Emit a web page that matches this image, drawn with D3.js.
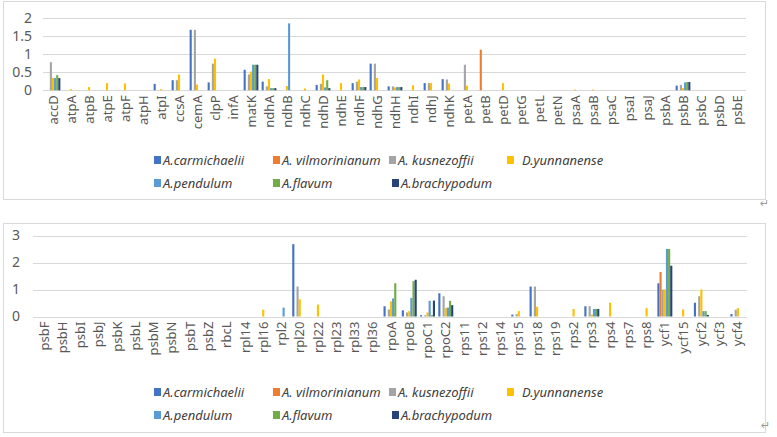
<!DOCTYPE html>
<html>
<head>
<meta charset="utf-8">
<script src="https://cdn.jsdelivr.net/npm/d3@7"></script>
<style>
  html, body { margin: 0; padding: 0; background: #ffffff; }
  svg { display: block; }
</style>
</head>
<body>
<svg id="chart" width="777" height="437"></svg>
<script>
// ---------- data ----------
const seriesNames = ["A.carmichaelii", "A. vilmorinianum", "A. kusnezoffii", "D.yunnanense", "A.pendulum", "A.flavum", "A.brachypodum"];
const seriesColors = ["#4472C4", "#ED7D31", "#A5A5A5", "#FFC000", "#5B9BD5", "#70AD47", "#264478"];

const topCategories = ["accD","atpA","atpB","atpE","atpF","atpH","atpI","ccsA","cemA","clpP",
  "infA","matK","ndhA","ndhB","ndhC","ndhD","ndhE","ndhF","ndhG","ndhH",
  "ndhI","ndhJ","ndhK","petA","petB","petD","petG","petL","petN","psaA",
  "psaB","psaC","psaI","psaJ","psbA","psbB","psbC","psbD","psbE"];
const topTicks = [0, 0.5, 1, 1.5, 2];
const topTickLabels = ["0", "0.5", "1", "1.5", "2"];

const topCarmichaelii = [0,0,0,0,0,0,0.18,0.28,1.68,0.22, 0,0.57,0.24,0,0,0.15,0,0.2,0.74,0.11, 0,0.2,0.31,0,0,0,0,0,0,0, 0,0,0,0,0,0.13,0,0,0];
const topVilmorinianum = [0,0,0,0,0,0,0,0,0,0, 0,0,0,0,0,0,0,0,0,0, 0,0,0,0,1.13,0,0,0,0,0, 0,0,0,0,0,0,0,0,0];
const topKusnezoffii = [0.78,0,0,0,0,0,0,0.28,1.68,0.74, 0,0.44,0.11,0,0,0.18,0,0.24,0.74,0.11, 0,0.2,0.3,0.71,0,0,0,0,0,0, 0,0,0,0,0,0.15,0,0,0];
const topYunnanense = [0.34,0.03,0.09,0.2,0.19,0,0.03,0.44,0.16,0.88, 0,0.52,0.31,0.12,0.05,0.44,0.2,0.3,0.34,0.08, 0.14,0.2,0.19,0.13,0,0.2,0,0,0,0.02, 0.02,0,0,0,0,0.06,0,0,0];
const topPendulum = [0.34,0,0,0,0,0,0,0,0,0, 0,0.71,0.06,1.86,0,0.08,0,0.09,0,0.09, 0,0,0,0,0,0,0,0,0,0, 0,0,0,0,0,0.22,0,0,0];
const topFlavum = [0.42,0,0,0,0,0,0,0,0,0, 0,0.71,0.06,0,0,0.28,0,0.09,0,0.09, 0,0,0,0,0,0,0,0,0,0, 0,0,0,0,0,0.23,0,0,0];
const topBrachypodum = [0.34,0,0,0,0,0,0,0,0,0, 0,0.71,0.06,0,0,0.06,0,0.09,0,0.09, 0,0,0,0,0,0,0,0,0,0, 0,0,0,0,0,0.23,0,0,0];

const bottomCategories = ["psbF","psbH","psbI","psbJ","psbK","psbL","psbM","psbN","psbT","psbZ",
  "rbcL","rpl14","rpl16","rpl2","rpl20","rpl22","rpl23","rpl33","rpl36","rpoA",
  "rpoB","rpoC1","rpoC2","rps11","rps12","rps14","rps15","rps18","rps19","rps2",
  "rps3","rps4","rps7","rps8","ycf1","ycf15","ycf2","ycf3","ycf4"];
const bottomTicks = [0, 1, 2, 3];
const bottomTickLabels = ["0", "1", "2", "3"];

const botCarmichaelii = [0,0,0,0,0,0,0,0,0,0, 0,0,0,0,2.68,0,0,0,0,0.38, 0.23,0.05,0.86,0,0,0,0.07,1.11,0,0, 0.38,0,0,0,1.23,0,0.51,0,0.09];
const botVilmorinianum = [0,0,0,0,0,0,0,0,0,0, 0,0,0,0,0,0,0,0,0,0, 0,0,0,0,0,0,0,0,0,0, 0,0,0,0,1.65,0,0,0,0];
const botKusnezoffii = [0,0,0,0,0,0,0,0,0,0, 0,0,0,0,1.11,0,0,0,0,0.26, 0.15,0.05,0.75,0,0,0,0.09,1.11,0,0, 0.38,0,0,0,1.0,0,0.75,0,0.25];
const botYunnanense = [0,0,0,0,0,0,0,0,0,0, 0,0,0.25,0,0.64,0.44,0,0,0,0.56, 0.2,0.15,0.32,0,0,0,0.2,0.36,0,0.28, 0.07,0.51,0,0.31,1.0,0.26,1.0,0,0.31];
const botPendulum = [0,0,0,0,0,0,0,0,0,0, 0,0,0,0.33,0,0,0,0,0,0.67, 0.69,0.58,0.33,0,0,0,0,0,0,0, 0.28,0,0,0,2.5,0,0.2,0,0];
const botFlavum = [0,0,0,0,0,0,0,0,0,0, 0,0,0,0,0,0,0,0,0,1.23, 1.31,0.05,0.58,0,0,0,0,0,0,0, 0.28,0,0,0,2.5,0,0.2,0,0];
const botBrachypodum = [0,0,0,0,0,0,0,0,0,0, 0,0,0,0,0,0,0,0,0,0, 1.36,0.59,0.42,0,0,0,0,0,0,0, 0.28,0,0,0,1.88,0,0.06,0,0];

// ---------- drawing ----------
const svg = d3.select("#chart");
const FONT = "'Noto Sans', 'DejaVu Sans', sans-serif";

function drawPanel(cfg) {
  const g = svg.append("g");
  // frame
  g.append("rect")
    .attr("x", cfg.frame[0] + 0.5).attr("y", cfg.frame[1] + 0.5)
    .attr("width", cfg.frame[2]).attr("height", cfg.frame[3])
    .attr("fill", "#fff").attr("stroke", "#d9d9d9").attr("stroke-width", 1);

  const x = d3.scaleBand().domain(cfg.categories).range([cfg.x0, cfg.x1])
    .paddingInner(0.18).paddingOuter(0.09);
  const xs = d3.scaleBand().domain(seriesNames).range([0, x.bandwidth()]);
  const y = d3.scaleLinear().domain([0, cfg.ticks[cfg.ticks.length - 1]]).range([cfg.y0, cfg.y1]);

  // gridlines
  g.append("g").selectAll("line").data(cfg.ticks).join("line")
    .attr("x1", cfg.gx0).attr("x2", cfg.x1)
    .attr("y1", d => Math.round(y(d)) + 0.5).attr("y2", d => Math.round(y(d)) + 0.5)
    .attr("stroke", "#d9d9d9").attr("stroke-width", 1);

  // y tick labels
  g.append("g").selectAll("text").data(cfg.ticks).join("text")
    .attr("x", cfg.labelRight).attr("y", d => y(d))
    .attr("dy", "0.35em").attr("text-anchor", "end")
    .attr("font-family", FONT).attr("font-size", 14).attr("fill", "#595959")
    .text((d, i) => cfg.tickLabels[i]);

  // bars
  const rows = [];
  cfg.series.forEach((vals, si) => {
    vals.forEach((v, ci) => {
      if (v > 0) rows.push({ cat: cfg.categories[ci], s: seriesNames[si], v, color: seriesColors[si] });
    });
  });
  g.append("g").selectAll("rect").data(rows).join("rect")
    .attr("x", d => x(d.cat) + xs(d.s))
    .attr("width", xs.bandwidth())
    .attr("y", d => y(d.v))
    .attr("height", d => y(0) - y(d.v))
    .attr("fill", d => d.color);

  // category labels (rotated)
  g.append("g").selectAll("text").data(cfg.categories).join("text")
    .attr("transform", d => `translate(${x(d) + x.bandwidth() / 2},${cfg.y0 + 5}) rotate(-90)`)
    .attr("text-anchor", "end").attr("dy", "0.35em")
    .attr("font-family", FONT).attr("font-size", 13).attr("fill", "#595959")
    .text(d => d);

  // legend
  const lg = g.append("g");
  cfg.legend.forEach(item => {
    const idx = seriesNames.indexOf(item.name);
    lg.append("rect")
      .attr("x", item.x).attr("y", item.y - 4)
      .attr("width", 7).attr("height", 8)
      .attr("fill", seriesColors[idx]);
    lg.append("text")
      .attr("x", item.x + item.dx).attr("y", item.y)
      .attr("dy", "0.35em")
      .attr("font-family", FONT).attr("font-style", "italic")
      .attr("font-size", 13).attr("fill", "#404040")
      .text(item.name);
  });

  // paragraph mark
  g.append("text")
    .attr("x", cfg.mark[0]).attr("y", cfg.mark[1])
    .attr("font-family", "'DejaVu Sans', sans-serif").attr("font-size", 11)
    .attr("fill", "#9a9a9a").text("\u21B5");
}

function legendItems(r1, r2) {
  return [
    { name: seriesNames[0], x: 154, y: r1, dx: 9 },
    { name: seriesNames[1], x: 273, y: r1, dx: 9 },
    { name: seriesNames[2], x: 389, y: r1, dx: 9 },
    { name: seriesNames[3], x: 507, y: r1, dx: 15 },
    { name: seriesNames[4], x: 154, y: r2, dx: 9 },
    { name: seriesNames[5], x: 273, y: r2, dx: 9 },
    { name: seriesNames[6], x: 392, y: r2, dx: 9 }
  ];
}

drawPanel({
  frame: [3, 1, 762, 198],
  categories: topCategories,
  series: [topCarmichaelii, topVilmorinianum, topKusnezoffii, topYunnanense, topPendulum, topFlavum, topBrachypodum],
  ticks: topTicks, tickLabels: topTickLabels,
  x0: 44, x1: 746, gx0: 43,
  y0: 90.3, y1: 18.3,
  labelRight: 32,
  legend: legendItems(160, 183),
  mark: [760, 207]
});

drawPanel({
  frame: [3, 223, 762, 209],
  categories: bottomCategories,
  series: [botCarmichaelii, botVilmorinianum, botKusnezoffii, botYunnanense, botPendulum, botFlavum, botBrachypodum],
  ticks: bottomTicks, tickLabels: bottomTickLabels,
  x0: 35, x1: 747, gx0: 33,
  y0: 316.5, y1: 235.5,
  labelRight: 20,
  legend: legendItems(392, 415),
  mark: [761, 429]
});
</script>
</body>
</html>
